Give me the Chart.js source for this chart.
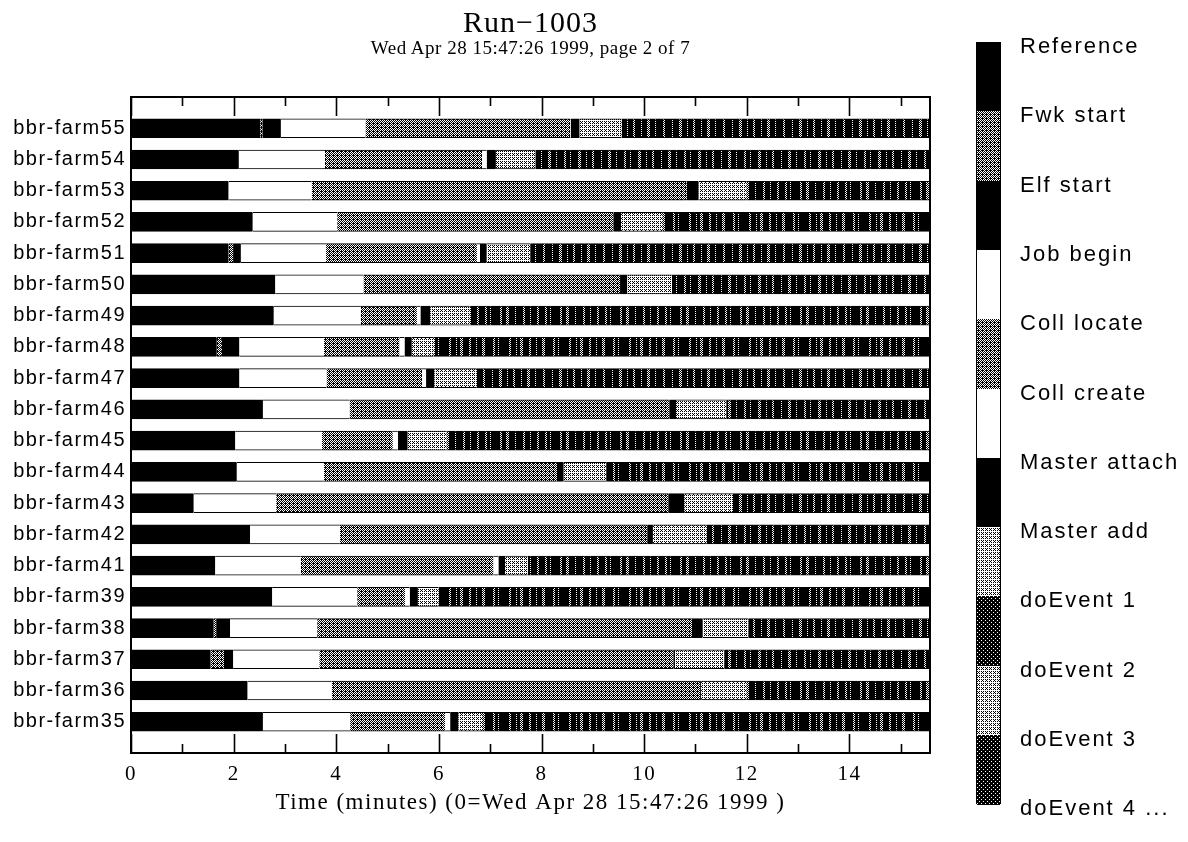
<!DOCTYPE html>
<html>
<head>
<meta charset="utf-8">
<script src="https://cdn.jsdelivr.net/npm/chart.js@4.4.1/dist/chart.umd.min.js"></script>
<style>
html, body { margin: 0; padding: 0; background: #fff; }
#wrap { position: relative; width: 1188px; height: 842px; overflow: hidden; background: #fff; }
#c { position: absolute; left: 0; top: 0; }
.ttl { position: absolute; left: 280px; width: 501px; text-align: center; font-family: "Liberation Serif", "Times New Roman", serif; color: #000; white-space: nowrap; }
#t1 { top: 5px; font-size: 30px; line-height: 34px; letter-spacing: 1px; }
#t2 { top: 36px; font-size: 19px; line-height: 24px; letter-spacing: 0.5px; }
#legbar { position: absolute; border: 1px solid #000; box-sizing: border-box; }
.seg { position: absolute; left: 0; right: 0; }
.lab { position: absolute; font-family: "Liberation Sans", Arial, sans-serif; font-size: 22px; line-height: 24px; letter-spacing: 2px; color: #000; white-space: nowrap; }
</style>
</head>
<body>
<div id="wrap">
  <canvas id="c" width="1188" height="842"></canvas>
  <div id="t1" class="ttl">Run−1003</div>
  <div id="t2" class="ttl">Wed Apr 28 15:47:26 1999, page 2 of 7</div>
  <div id="legbar"></div>
</div>
<script>
// ---------------- data ----------------
const rows = ['bbr-farm55','bbr-farm54','bbr-farm53','bbr-farm52','bbr-farm51','bbr-farm50','bbr-farm49','bbr-farm48','bbr-farm47','bbr-farm46',
              'bbr-farm45','bbr-farm44','bbr-farm43','bbr-farm42','bbr-farm41','bbr-farm39','bbr-farm38','bbr-farm37','bbr-farm36','bbr-farm35'];
const phaseNames = ['Reference','Fwk start','Elf start','Job begin','Coll locate','Coll create','Master attach','Master add','doEvent'];
const legendLabels = ['Reference','Fwk start','Elf start','Job begin','Coll locate','Coll create','Master attach','Master add','doEvent 1','doEvent 2','doEvent 3','doEvent 4 ...'];

// phase start times (minutes) per row
const fwkStart     = [2.52, 2.10, 1.90, 2.37, 1.90, 2.81, 2.78, 1.67, 2.11, 2.57, 2.03, 2.06, 1.22, 2.32, 1.64, 2.75, 1.61, 1.55, 2.27, 2.57];
const elfStart     = [2.56, 2.10, 1.90, 2.37, 1.99, 2.81, 2.78, 1.77, 2.11, 2.57, 2.03, 2.06, 1.22, 2.32, 1.64, 2.75, 1.66, 1.81, 2.27, 2.57];
const jobBegin     = [2.92, 2.10, 1.90, 2.37, 2.14, 2.81, 2.78, 2.11, 2.11, 2.57, 2.03, 2.06, 1.22, 2.32, 1.64, 2.75, 1.93, 1.99, 2.27, 2.57];
const collLocate   = [4.57, 3.78, 3.52, 4.02, 3.80, 4.53, 4.48, 3.76, 3.81, 4.26, 3.72, 3.76, 2.83, 4.07, 3.31, 4.41, 3.63, 3.67, 3.91, 4.27];
const collCreate   = [8.56, 6.84, 10.83, 9.40, 6.74, 9.53, 5.57, 5.23, 5.67, 10.49, 5.10, 8.30, 10.47, 10.06, 7.06, 5.34, 10.93, 10.57, 11.09, 6.12];
const masterAttach = [8.57, 6.93, 10.83, 9.40, 6.80, 9.53, 5.64, 5.33, 5.75, 10.49, 5.20, 8.30, 10.47, 10.06, 7.16, 5.43, 10.93, 10.57, 11.09, 6.22];
const masterAdd    = [8.74, 7.11, 11.06, 9.55, 6.93, 9.67, 5.83, 5.47, 5.91, 10.62, 5.39, 8.43, 10.78, 10.17, 7.29, 5.59, 11.14, 10.60, 11.11, 6.38];
const doEvents     = [9.56, 7.88, 12.00, 10.35, 7.78, 10.54, 6.60, 5.90, 6.74, 11.60, 6.15, 9.26, 11.71, 11.22, 7.73, 5.99, 12.03, 11.56, 12.00, 6.84];

const xMin = 0, xMax = 15.57;
const xTickLabels = [0, 2, 4, 6, 8, 10, 12, 14];
const xMinorTicks = [1, 3, 5, 7, 9, 11, 13, 15];
const xTitle = 'Time (minutes) (0=Wed Apr 28 15:47:26 1999 )';

// ---------------- styles ----------------
const BAYER = [[0,8,2,10],[12,4,14,6],[3,11,1,9],[15,7,13,5]];
function dither(level) {
  const c = document.createElement('canvas'); c.width = 4; c.height = 4;
  const g = c.getContext('2d');
  for (let y = 0; y < 4; y++) for (let x = 0; x < 4; x++) {
    g.fillStyle = BAYER[y][x] < level ? '#fff' : '#000'; g.fillRect(x, y, 1, 1);
  }
  return c;
}
// striped texture for the many short doEvent slices (purely visual style)
const STRIPE_SETS = [
  [[3,2],[12,1],[19,3],[27,1],[33,2],[41,1],[47,3],[55,1]],
  [[1,1],[8,3],[16,1],[24,2],[30,1],[38,3],[46,1],[52,2]],
  [[5,2],[10,1],[20,2],[26,3],[35,1],[43,2],[50,1],[57,2]],
  [[2,3],[13,2],[18,1],[29,2],[36,1],[40,3],[49,2],[56,1]]
];
function stripes(set) {
  const c = document.createElement('canvas'); c.width = 60; c.height = 4;
  const g = c.getContext('2d');
  g.fillStyle = '#000'; g.fillRect(0, 0, 60, 4);
  g.fillStyle = '#fff';
  for (const [x0, w] of set) for (let x = x0; x < x0 + w; x++) for (let y = 0; y < 4; y++) {
    if ((x + y) % 2 === 0) g.fillRect(x, y, 1, 1);
  }
  return c;
}

const canvas = document.getElementById('c');
const ctx0 = canvas.getContext('2d');
const texLocate = dither(7), texFwk = dither(7), texAdd = dither(11), texEvDark = dither(2), texEvLight = dither(11);
const pat = (cv) => ctx0.createPattern(cv, 'repeat');
const pLocate = pat(texLocate), pFwk = pat(texFwk), pAdd = pat(texAdd);
const pEvents = STRIPE_SETS.map(s => pat(stripes(s)));

const phaseFill = ['#000', pFwk, '#000', '#fff', pLocate, '#fff', '#000', pAdd, null];

const starts = [rows.map(() => xMin), fwkStart, elfStart, jobBegin, collLocate, collCreate, masterAttach, masterAdd, doEvents];
const ends = [fwkStart, elfStart, jobBegin, collLocate, collCreate, masterAttach, masterAdd, doEvents, rows.map(() => xMax)];

const datasets = phaseNames.map((name, p) => ({
  label: name,
  data: rows.map((r, i) => ({ y: i, x: [starts[p][i], ends[p][i]] })),
  backgroundColor: p === 8 ? (c) => pEvents[c.dataIndex % pEvents.length] : phaseFill[p],
  borderColor: '#000',
  borderWidth: { top: 1, bottom: 1, left: 0, right: 0 },
  borderSkipped: false,
  barThickness: 19,
  grouped: false
}));

const spacingPlugin = {
  id: 'spacing',
  beforeDraw(chart) { chart.ctx.letterSpacing = '1.5px'; }
};
const framePlugin = {
  id: 'frame',
  afterDraw(chart) {
    const { ctx, chartArea: a } = chart;
    const x = chart.scales.x;
    ctx.save();
    ctx.letterSpacing = '0px';
    ctx.strokeStyle = '#000';
    ctx.lineWidth = 1.6;
    const drawTick = (v, len) => {
      const px = Math.round(x.getPixelForValue(v)) + 0.5;
      ctx.beginPath();
      ctx.moveTo(px, a.bottom); ctx.lineTo(px, a.bottom - len);
      ctx.moveTo(px, a.top); ctx.lineTo(px, a.top + len);
      ctx.stroke();
    };
    xTickLabels.forEach(v => drawTick(v, 19));
    xMinorTicks.forEach(v => { if (v <= xMax) drawTick(v, 9); });
    ctx.lineWidth = 2;
    ctx.strokeRect(a.left, a.top, a.right - a.left, a.bottom - a.top);
    ctx.restore();
  }
};

new Chart(canvas, {
  type: 'bar',
  data: { datasets },
  options: {
    responsive: false,
    animation: false,
    indexAxis: 'y',
    layout: { padding: { left: 0, right: 258, top: 97, bottom: 0 } },
    plugins: { legend: { display: false }, tooltip: { enabled: false }, title: { display: false } },
    scales: {
      x: {
        type: 'linear', position: 'bottom', min: xMin, max: xMax,
        afterBuildTicks: s => { s.ticks = xTickLabels.map(v => ({ value: v })); },
        afterFit: s => { s.height = 89; },
        grid: { display: false, drawTicks: false },
        border: { display: false },
        ticks: { color: '#000', font: { family: 'Liberation Serif', size: 21 }, padding: 9, maxRotation: 0, autoSkip: false },
        title: { display: true, text: xTitle, color: '#000', font: { family: 'Liberation Serif', size: 23 }, padding: { top: 0, bottom: 25 } }
      },
      y: {
        type: 'linear', min: -1, max: 20, reverse: true, offset: false,
        afterBuildTicks: s => { s.ticks = rows.map((_, i) => ({ value: i })); },
        afterFit: s => { s.width = 131; },
        grid: { display: false, drawTicks: false, offset: false },
        border: { display: false },
        ticks: { color: '#000', font: { family: 'Liberation Sans', size: 20 }, padding: 5, autoSkip: false,
                 callback: v => rows[v] !== undefined ? rows[v] : '' }
      }
    }
  },
  plugins: [spacingPlugin, framePlugin]
});

// ---------------- legend (color bar) ----------------
const LEG_X = 976, LEG_W = 25, LEG_TOP = 42, LEG_SEG = 69.3, LAB_X = 1020;
const legFill = ['#000', texFwk, '#000', '#fff', texLocate, '#fff', '#000', texAdd, texEvDark, texEvLight, texEvDark];
const bar = document.getElementById('legbar');
bar.style.left = LEG_X + 'px';
bar.style.top = LEG_TOP + 'px';
bar.style.width = LEG_W + 'px';
bar.style.height = (LEG_SEG * legFill.length) + 'px';
legFill.forEach((f, k) => {
  const d = document.createElement('div');
  d.className = 'seg';
  d.style.top = (LEG_SEG * k - 1) + 'px';
  d.style.height = (LEG_SEG + 0.5) + 'px';
  d.style.background = typeof f === 'string' ? f : 'url(' + f.toDataURL() + ') repeat';
  bar.appendChild(d);
});
const wrap = document.getElementById('wrap');
legendLabels.forEach((t, k) => {
  const s = document.createElement('div');
  s.className = 'lab';
  s.textContent = t;
  s.style.left = LAB_X + 'px';
  s.style.top = (LEG_TOP + LEG_SEG * k + 4 - 12) + 'px';
  wrap.appendChild(s);
});
</script>
</body>
</html>
